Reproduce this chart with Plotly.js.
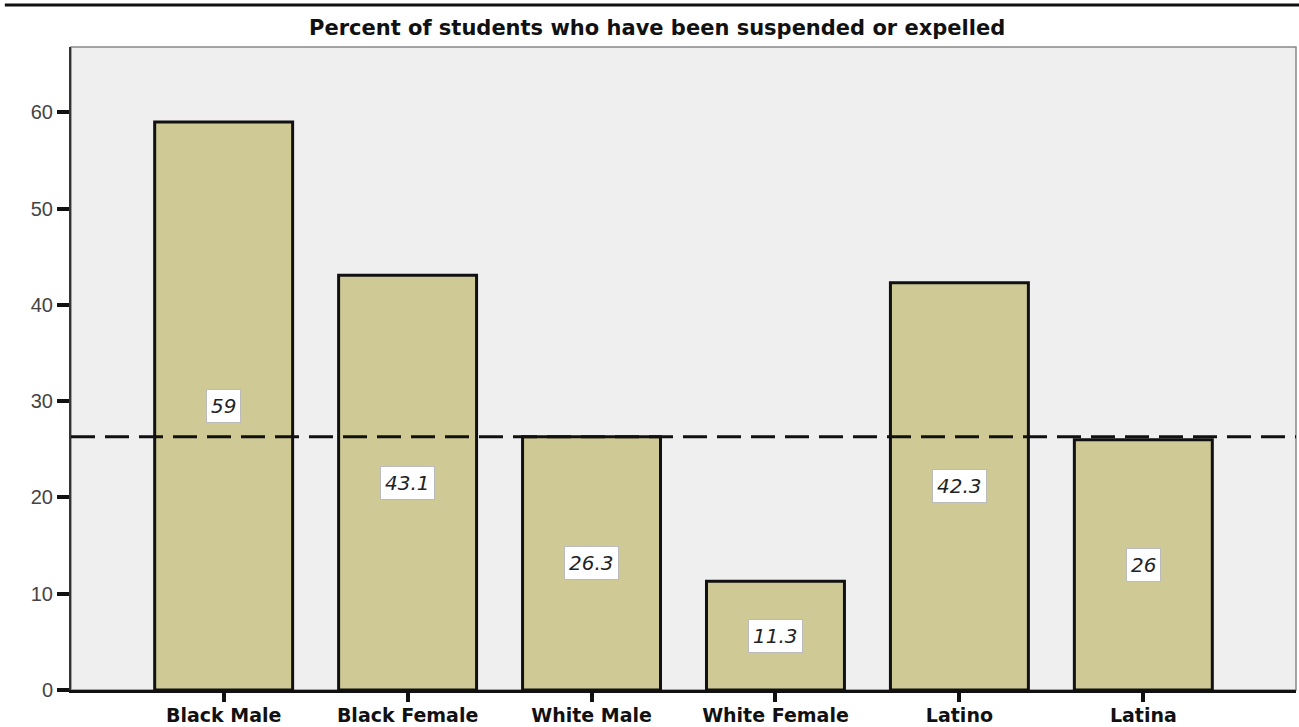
<!DOCTYPE html>
<html>
<head>
<meta charset="utf-8">
<script src="https://cdn.plot.ly/plotly-3.0.1.min.js"></script>
<style>html,body{margin:0;padding:0;background:#fff;}#chart{width:1299px;height:727px;}</style>
</head>
<body>
<div id="chart"></div>
<script>
const categories = ["Black Male", "Black Female", "White Male", "White Female", "Latino", "Latina"];
const percents = [59, 43.1, 26.3, 11.3, 42.3, 26];
const valueLabels = ["59", "43.1", "26.3", "11.3", "42.3", "26"];
const referenceValue = 26.3;
const titleText = "Percent of students who have been suspended or expelled";

const trace = {
  type: "bar",
  x: categories,
  y: percents,
  width: 0.75,
  marker: { color: "#cfca95", line: { color: "#111", width: 3 } },
  hoverinfo: "x+y"
};

const annotations = categories.map((c, i) => ({
  x: c, y: percents[i] / 2, xref: "x", yref: "y",
  text: valueLabels[i], showarrow: false,
  font: { family: "DejaVu Sans", size: 20, color: "#222", style: "italic" },
  bgcolor: "#ffffff", bordercolor: "#bbbbbb", borderwidth: 1, borderpad: 4
}));

annotations.push({
  xref: "paper", yref: "paper", x: 0.478, y: 1.0, yanchor: "bottom", yshift: 5,
  text: "<b>" + titleText + "</b>", showarrow: false,
  font: { family: "DejaVu Sans", size: 21, color: "#111" }
});

const layout = {
  width: 1299, height: 727,
  margin: { l: 71, r: 3, t: 47, b: 37 },
  paper_bgcolor: "#ffffff",
  plot_bgcolor: "#efefef",
  showlegend: false,
  bargap: 0.25,
  xaxis: {
    type: "category",
    range: [-0.83, 5.83],
    showline: true, linecolor: "#111", linewidth: 3,
    ticks: "outside", ticklen: 9, tickwidth: 4, tickcolor: "#111",
    ticklabelstandoff: -3,
    showgrid: false, zeroline: false,
    tickfont: { family: "DejaVu Sans", size: 19, color: "#111", weight: "bold" }
  },
  yaxis: {
    range: [0, 66.8],
    dtick: 10, tick0: 0,
    showline: true, linecolor: "#333", linewidth: 2,
    ticks: "outside", ticklen: 12, tickwidth: 4, tickcolor: "#111",
    showgrid: false, zeroline: false,
    tickfont: { family: "Liberation Sans", size: 20, color: "#444" }
  },
  shapes: [
    { type: "rect", xref: "paper", yref: "paper", x0: 0, x1: 1, y0: 0, y1: 1,
      line: { color: "#888", width: 1.5 }, layer: "below" },
    { type: "line", xref: "paper", yref: "y", x0: 0, x1: 1, y0: referenceValue, y1: referenceValue,
      line: { color: "#111", width: 3, dash: "24px,10px" }, layer: "above" },
    { type: "line", xref: "paper", yref: "paper", x0: -0.054, x1: 1.003, y0: 1.0653, y1: 1.0653,
      line: { color: "#111", width: 3 } }
  ],
  annotations: annotations
};

Plotly.newPlot("chart", [trace], layout, { displayModeBar: false, responsive: false });
</script>
</body>
</html>
